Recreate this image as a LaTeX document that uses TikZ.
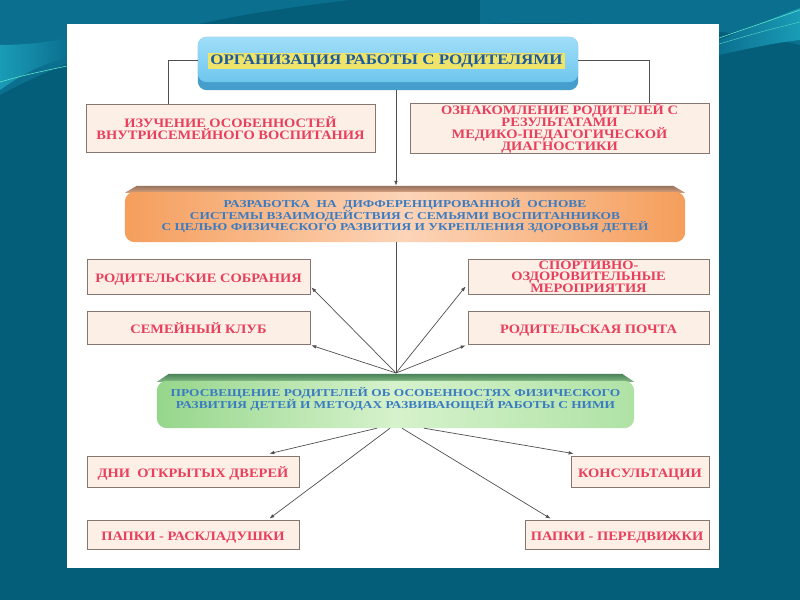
\documentclass[tikz,border=0pt]{standalone}
\usepackage{fontspec}
\setmainfont{Liberation Serif}
\newfontfamily\redfam{Liberation Serif}[FakeStretch=1.12]
\newfontfamily\bluefam{Liberation Serif}[FakeStretch=1.26]
\newfontfamily\titlefam{Liberation Serif}[FakeStretch=1.16]
\usetikzlibrary{arrows.meta,calc}
\definecolor{bgdark}{HTML}{055E79}
\definecolor{bgmid}{HTML}{0B7090}
\definecolor{bglight}{HTML}{1A9CB6}
\definecolor{bgline}{HTML}{5FE3C6}
\definecolor{boxfill}{HTML}{FBEFE6}
\definecolor{boxline}{HTML}{857770}
\definecolor{redtext}{HTML}{E8405C}
\definecolor{bluetext}{HTML}{3A7BC2}
\definecolor{titleblue}{HTML}{1D5A9E}
\definecolor{hlyellow}{HTML}{EEE46A}
\definecolor{conncol}{HTML}{505050}
\begin{document}
\begin{tikzpicture}[x=1pt,y=-1pt,
  redbox/.style={draw=boxline, fill=boxfill, line width=0.7pt, inner sep=0pt,
    align=center, text=redtext, font=\redfam\bfseries\fontsize{12.9}{12}\selectfont},
  oneline/.style={text height=11pt, text depth=0pt},
  bluetxt/.style={inner sep=0pt, align=center, text=bluetext,
    font=\bluefam\bfseries\fontsize{10.6}{11.5}\selectfont},
  holder/.style={inner sep=0pt},
  conn/.style={draw=conncol, line width=0.7pt},
  arr/.style={conn, -{Latex[length=5pt,width=3.6pt]}}
]
\useasboundingbox (0,0) rectangle (800,600);
% slide background
\fill[bgdark] (0,0) rectangle (800,600);
\fill[bgmid] (0,0) -- (350,0) .. controls (250,12) and (120,30) .. (0,95) -- cycle;
\fill[bgmid] (480,0) -- (800,0) -- (800,45) .. controls (740,30) and (620,20) .. (480,24) -- cycle;
\shade[left color=bglight, right color=bgmid] (0,45) .. controls (25,45) and (50,42) .. (67,38)
  -- (67,58) .. controls (40,64) and (20,76) .. (0,90) -- cycle;
\shade[left color=bgmid, right color=bglight] (719,40) .. controls (750,28) and (780,15) .. (800,8)
  -- (800,40) .. controls (780,42) and (750,48) .. (719,55) -- cycle;
\draw[bgline, line width=0.6pt] (0,82) .. controls (25,75) .. (67,66);
\draw[bgline, line width=0.6pt] (719,38) .. controls (760,24) .. (800,10);
\draw[bgline!70!bglight, line width=0.5pt] (719,44) .. controls (760,32) .. (800,22);
% white panel
\fill[white] (67,24) rectangle (719,568);

% ---- top box
\node[holder, minimum width=380, minimum height=53] (top) at (388,63.5) {};
\fill[rounded corners=9pt, color={rgb,255:red,70;green,158;blue,205}] (top.north west) rectangle (top.south east);
\shade[rounded corners=9pt, top color={rgb,255:red,160;green,222;blue,248}, bottom color={rgb,255:red,110;green,198;blue,238}]
  (top.north west) rectangle ($(top.south east)+(0,-8)$);
\node[fill=hlyellow, inner xsep=2pt, inner ysep=1.5pt, text=titleblue,
  font=\titlefam\bfseries\fontsize{14.6}{14.6}\selectfont] (title) at (386.5,61) {ОРГАНИЗАЦИЯ РАБОТЫ С РОДИТЕЛЯМИ};

% ---- second row
\node[redbox, minimum width=289, minimum height=48] (lbox) at (230.5,128)
  {ИЗУЧЕНИЕ ОСОБЕННОСТЕЙ\\ВНУТРИСЕМЕЙНОГО ВОСПИТАНИЯ};
\node[redbox, minimum width=299, minimum height=48] (rbox) at (559.5,128)
  {ОЗНАКОМЛЕНИЕ РОДИТЕЛЕЙ С\\РЕЗУЛЬТАТАМИ\\МЕДИКО-ПЕДАГОГИЧЕСКОЙ\\ДИАГНОСТИКИ};

% ---- orange box
\node[holder, minimum width=560, minimum height=56] (orange) at (405,214) {};
\shade[top color={rgb,255:red,150;green,115;blue,95}, bottom color={rgb,255:red,215;green,160;blue,125}]
  ($(orange.north west)+(12,0)$) -- ($(orange.north east)+(-12,0)$) -- ($(orange.north east)+(0,7)$)
  -- ($(orange.north west)+(0,7)$) -- cycle;
\shade[rounded corners=10pt, left color={rgb,255:red,245;green,158;blue,92},
  right color={rgb,255:red,245;green,158;blue,92}, middle color={rgb,255:red,252;green,212;blue,184}]
  ($(orange.north west)+(0,6)$) rectangle (orange.south east);
\node[bluetxt] (otext) at ($(orange.center)+(0,2)$)
  {РАЗРАБОТКА\ \ НА\ \ ДИФФЕРЕНЦИРОВАННОЙ\ \ ОСНОВЕ\\СИСТЕМЫ ВЗАИМОДЕЙСТВИЯ С СЕМЬЯМИ ВОСПИТАННИКОВ\\С ЦЕЛЬЮ ФИЗИЧЕСКОГО РАЗВИТИЯ И УКРЕПЛЕНИЯ ЗДОРОВЬЯ ДЕТЕЙ};

% ---- middle boxes
\node[redbox, oneline, minimum width=223, minimum height=35] (rs) at (198.5,276.5) {РОДИТЕЛЬСКИЕ СОБРАНИЯ};
\node[redbox, oneline, minimum width=223, minimum height=33] (sk) at (198.5,327.5) {СЕМЕЙНЫЙ КЛУБ};
\node[redbox, minimum width=241, minimum height=35, font=\redfam\bfseries\fontsize{12.9}{11.6}\selectfont]
  (sp) at (588.5,276.5) {СПОРТИВНО-\\ОЗДОРОВИТЕЛЬНЫЕ\\МЕРОПРИЯТИЯ};
\node[redbox, oneline, minimum width=241, minimum height=33] (rp) at (588.5,327.5) {РОДИТЕЛЬСКАЯ ПОЧТА};

% ---- green box
\node[holder, minimum width=477, minimum height=54] (green) at (395.5,401) {};
\shade[top color={rgb,255:red,75;green,130;blue,88}, bottom color={rgb,255:red,130;green,185;blue,130}]
  ($(green.north west)+(12,0)$) -- ($(green.north east)+(-12,0)$) -- ($(green.north east)+(0,8)$)
  -- ($(green.north west)+(0,8)$) -- cycle;
\shade[rounded corners=10pt, left color={rgb,255:red,150;green,214;blue,140},
  right color={rgb,255:red,175;green,226;blue,165}, middle color={rgb,255:red,214;green,242;blue,204}]
  ($(green.north west)+(0,7)$) rectangle (green.south east);
\node[bluetxt, font=\bluefam\bfseries\fontsize{10.6}{10.5}\selectfont] (gtext) at ($(green.center)+(0,-2)$)
  {ПРОСВЕЩЕНИЕ РОДИТЕЛЕЙ ОБ ОСОБЕННОСТЯХ ФИЗИЧЕСКОГО\\РАЗВИТИЯ ДЕТЕЙ И МЕТОДАХ РАЗВИВАЮЩЕЙ РАБОТЫ С НИМИ};

% ---- bottom boxes
\node[redbox, oneline, minimum width=212, minimum height=31] (dni) at (193,471.5) {ДНИ\ \ ОТКРЫТЫХ ДВЕРЕЙ};
\node[redbox, oneline, minimum width=138, minimum height=31] (kons) at (640,471.5) {КОНСУЛЬТАЦИИ};
\node[redbox, oneline, minimum width=212, minimum height=29] (pr) at (193,534.5) {ПАПКИ - РАСКЛАДУШКИ};
\node[redbox, oneline, minimum width=184, minimum height=29] (pp) at (617,534.5) {ПАПКИ - ПЕРЕДВИЖКИ};

% ---- connectors
\coordinate (lj) at (168,60);
\coordinate (rj) at (649,60);
\coordinate (hub) at (396,373);
\draw[conn] (top.west |- lj) -- (lj) -- (lj |- lbox.north);
\draw[conn] (top.east |- rj) -- (rj) -- (rj |- rbox.north);
\draw[arr] (top.south -| hub) -- (orange.north -| hub);
\draw[conn] (orange.south -| hub) -- (hub);
\draw[arr] (hub) -- ($(rs.south east)+(1,-7)$);
\draw[arr] (hub) -- ($(sk.south east)+(1,1)$);
\draw[arr] (hub) -- ($(sp.south west)+(-2,-8)$);
\draw[arr] (hub) -- ($(rp.south west)+(-2,1)$);
\draw[arr] ($(green.south)+(-18.5,0)$) -- ($(dni.north east)+(-30,-2)$);
\draw[arr] ($(green.south)+(-5.5,0)$) -- ($(pr.north east)+(-30,-1)$);
\draw[arr] ($(green.south)+(6.5,0)$) -- ($(pp.north west)+(26,-1)$);
\draw[arr] ($(green.south)+(28.5,0)$) -- ($(kons.north west)+(3,-2)$);
\end{tikzpicture}
\end{document}
